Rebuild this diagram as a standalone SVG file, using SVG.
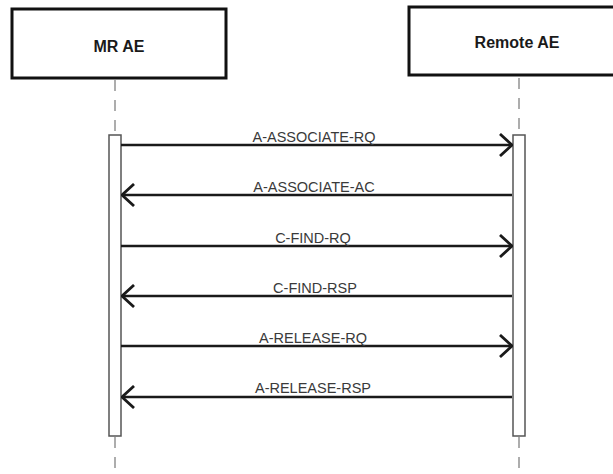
<svg xmlns="http://www.w3.org/2000/svg" width="613" height="474" viewBox="0 0 613 474">
<defs>
<style>
.box{fill:#fff;stroke:#111;stroke-width:3}
.title{font-family:"Liberation Sans",Arial,sans-serif;font-weight:bold;font-size:16px;fill:#1a1a1a;text-anchor:middle}
.life{stroke:#999;stroke-width:1.6;stroke-dasharray:11 9;fill:none}
.act{fill:#fff;stroke:#555;stroke-width:1.5}
.msg{stroke:#1a1a1a;stroke-width:2.6;fill:none}
.lbl{font-family:"Liberation Sans",Arial,sans-serif;font-size:14.5px;fill:#3a3a3a;text-anchor:middle}
</style>
<marker id="ah" viewBox="0 0 14 24" refX="13" refY="12" markerWidth="14" markerHeight="24" markerUnits="userSpaceOnUse" orient="auto">
<path d="M1,1 L13,12 L1,23" fill="none" stroke="#1a1a1a" stroke-width="2.8"/>
</marker>
</defs>
<g id="mr-ae">
<rect class="box" x="12" y="9" width="214" height="69"/>
<text class="title" x="119" y="52">MR AE</text>
<line class="life" x1="115" y1="80" x2="115" y2="135"/>
<rect class="act" x="109" y="135" width="12" height="301"/>
<line class="life" x1="115" y1="437" x2="115" y2="474"/>
</g>
<g id="remote-ae">
<rect class="box" x="409" y="7" width="216" height="68"/>
<text class="title" x="517" y="48">Remote AE</text>
<line class="life" x1="519" y1="78" x2="519" y2="135"/>
<rect class="act" x="513" y="135" width="12" height="301"/>
<line class="life" x1="519" y1="437" x2="519" y2="474"/>
</g>
<g id="connectors">
<line class="msg" x1="121" y1="145" x2="512" y2="145" marker-end="url(#ah)"/>
<text class="lbl" x="314" y="142">A-ASSOCIATE-RQ</text>
<line class="msg" x1="512" y1="195" x2="122" y2="195" marker-end="url(#ah)"/>
<text class="lbl" x="314" y="192">A-ASSOCIATE-AC</text>
<line class="msg" x1="121" y1="246" x2="512" y2="246" marker-end="url(#ah)"/>
<text class="lbl" x="313" y="243">C-FIND-RQ</text>
<line class="msg" x1="512" y1="296" x2="122" y2="296" marker-end="url(#ah)"/>
<text class="lbl" x="315" y="293">C-FIND-RSP</text>
<line class="msg" x1="121" y1="346" x2="512" y2="346" marker-end="url(#ah)"/>
<text class="lbl" x="313" y="343">A-RELEASE-RQ</text>
<line class="msg" x1="512" y1="397" x2="122" y2="397" marker-end="url(#ah)"/>
<text class="lbl" x="313" y="393">A-RELEASE-RSP</text>
</g>
</svg>
